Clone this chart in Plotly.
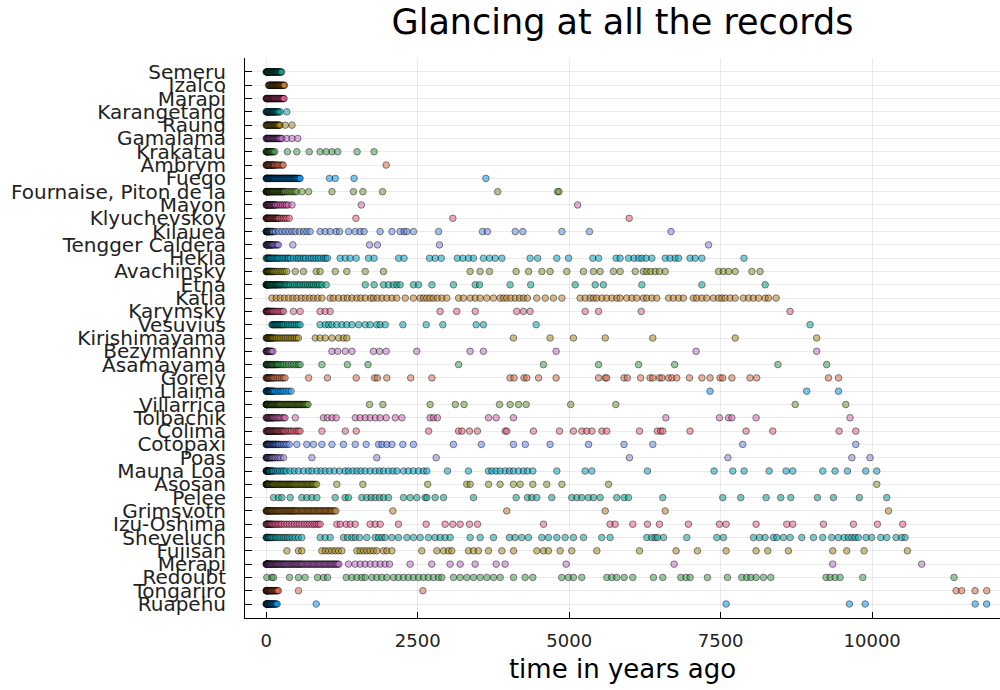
import plotly.graph_objects as go

# ---------------- data (years ago) ----------------
names = ["Semeru", "Izalco", "Marapi", "Karangetang", "Raung", "Gamalama", "Krakatau",
         "Ambrym", "Fuego", "Fournaise, Piton de la", "Mayon", "Klyuchevskoy", "Kilauea",
         "Tengger Caldera", "Hekla", "Avachinsky", "Etna", "Katla", "Karymsky", "Vesuvius",
         "Kirishimayama", "Bezymianny", "Asamayama", "Gorely", "Llaima", "Villarrica",
         "Tolbachik", "Colima", "Cotopaxi", "Poas", "Mauna Loa", "Asosan", "Pelee",
         "Grimsvotn", "Izu-Oshima", "Sheveluch", "Fujisan", "Merapi", "Redoubt",
         "Tongariro", "Ruapehu"]

semeru = [0, 5, 10, 15, 20, 25, 30, 38, 45, 52, 60, 68, 75, 82, 90, 98, 105, 112, 120, 128, 135,
          142, 150, 158, 165, 172, 180, 190, 200, 210, 220, 230, 240, 255]
izalco = [40, 48, 55, 62, 70, 78, 85, 92, 100, 108, 115, 122, 130, 138, 145, 152, 160, 168, 175,
          182, 190, 198, 205, 212, 220, 230, 240, 250, 260, 270, 280, 290, 300]
marapi = [0, 5, 10, 15, 20, 28, 35, 42, 50, 58, 65, 72, 80, 88, 95, 102, 110, 118, 125, 132, 140,
          150, 160, 170, 180, 190, 200, 210, 220, 230, 240, 250, 260, 270, 280, 295]
karangetang = [0, 5, 10, 18, 25, 32, 40, 48, 55, 62, 70, 78, 85, 92, 100, 108, 115, 122, 130,
               140, 150, 160, 170, 180, 190, 205, 230, 340]
raung = [0, 8, 15, 22, 30, 40, 50, 60, 70, 80, 90, 100, 110, 120, 130, 140, 150, 160, 170, 180,
         190, 200, 210, 230, 315, 425]
gamalama = [0, 8, 15, 22, 30, 38, 45, 52, 60, 70, 80, 90, 100, 110, 120, 130, 140, 150, 160,
            170, 180, 190, 200, 210, 220, 240, 260, 340, 425, 520]
krakatau = [0, 5, 10, 18, 25, 32, 40, 50, 60, 70, 80, 90, 100, 120, 140, 350, 505, 710, 890,
            990, 1085, 1180, 1500, 1780]
ambrym = [0, 5, 10, 18, 25, 32, 40, 50, 60, 70, 80, 90, 100, 110, 120, 130, 140, 160, 180, 200,
          230, 260, 280, 1980]
fuego = [0, 5, 10, 15, 20, 28, 35, 42, 50, 58, 65, 72, 80, 88, 95, 102, 110, 118, 125, 132, 140,
         150, 160, 170, 180, 190, 200, 210, 220, 230, 240, 250, 260, 270, 280, 290, 300, 310, 320,
         330, 340, 350, 360, 370, 380, 390, 400, 410, 420, 430, 440, 450, 460, 470, 480, 490, 500,
         515, 530, 545, 560, 1045, 1140, 1450, 3625]
fournaise = [0, 3, 5, 8, 10, 15, 20, 25, 30, 35, 40, 45, 50, 55, 60, 68, 75, 82, 90, 98, 105,
             112, 120, 130, 140, 150, 160, 170, 180, 190, 200, 210, 220, 230, 240, 250, 260, 270,
             280, 290, 300, 320, 350, 380, 410, 440, 470, 500, 590, 700, 1085, 1440, 1595, 1920,
             3820, 4810, 4830]
mayon = [0, 5, 10, 15, 20, 28, 35, 42, 50, 58, 65, 72, 80, 90, 100, 110, 120, 130, 140, 150, 160,
         185, 210, 240, 270, 300, 330, 360, 425, 1570, 5140]
klyuchevskoy = [0, 5, 10, 15, 20, 28, 35, 42, 50, 58, 65, 72, 80, 90, 100, 110, 120, 130, 140,
                150, 160, 170, 180, 190, 200, 220, 250, 280, 310, 340, 380, 1480, 3080, 5990]
kilauea = [0, 3, 5, 8, 10, 15, 20, 25, 30, 35, 40, 45, 50, 55, 60, 68, 75, 82, 90, 98, 105, 120,
           150, 205, 260, 315, 370, 425, 480, 550, 615, 670, 725, 890, 975, 1055, 1155, 1210,
           1360, 1470, 1550, 1615, 1880, 2075, 2210, 2275, 2320, 2430, 2845, 3570, 3650, 4110,
           4235, 4880, 5335, 6680]
tengger = [0, 5, 10, 15, 20, 28, 35, 42, 50, 58, 65, 72, 80, 90, 100, 110, 120, 140, 160, 180,
           200, 440, 1705, 1835, 2860, 7300]
hekla = [0, 10, 20, 30, 40, 50, 60, 70, 80, 100, 120, 140, 160, 180, 200, 230, 260, 290, 320,
         350, 370, 400, 450, 500, 530, 570, 615, 650, 700, 740, 780, 820, 860, 900, 945, 980,
         1010, 1220, 1305, 1385, 1485, 1690, 1780, 2185, 2275, 2695, 2790, 2890, 3155, 3245,
         3340, 3420, 3585, 3685, 3780, 3890, 4355, 4480, 4795, 4990, 5390, 5485, 5775, 5840,
         5980, 6070, 6145, 6200, 6270, 6365, 6585, 6665, 6750, 6805, 6995, 7080, 7190, 7885]
avachinsky = [0, 5, 10, 15, 20, 28, 35, 42, 50, 60, 70, 80, 90, 100, 110, 130, 150, 180, 210,
              240, 270, 300, 340, 480, 615, 825, 890, 1140, 1330, 1635, 1935, 3365, 3530, 3685,
              4125, 4330, 4550, 4685, 4960, 5235, 5400, 5510, 5730, 5840, 6090, 6225, 6280,
              6345, 6420, 6490, 6585, 7465, 7545, 7630, 7740, 8015, 8150]
etna = [0, 3, 5, 8, 10, 15, 20, 25, 30, 35, 40, 45, 50, 58, 65, 72, 80, 90, 100, 110, 120, 130,
        140, 150, 160, 170, 180, 190, 200, 215, 230, 245, 260, 280, 300, 320, 340, 370, 400,
        440, 470, 505, 540, 570, 610, 645, 680, 715, 750, 780, 815, 850, 880, 920, 990, 1635,
        1780, 1935, 2020, 2100, 2155, 2210, 2430, 2515, 2735, 3090, 3450, 3520, 4025, 4365,
        5100, 5430, 5565, 6200, 7190, 8235]
katla = [95, 165, 230, 300, 370, 440, 505, 580, 645, 715, 780, 850, 920, 1055, 1110, 1195,
         1275, 1340, 1415, 1495, 1560, 1635, 1725, 1770, 1835, 1910, 1990, 2075, 2155, 2295,
         2430, 2540, 2595, 2650, 2705, 2760, 2825, 2900, 2980, 3175, 3255, 3365, 3450, 3530,
         3640, 3750, 3860, 3915, 3970, 4035, 4110, 4180, 4245, 4310, 4465, 4605, 4740, 4880,
         5180, 5265, 5345, 5400, 5455, 5540, 5620, 5705, 5785, 5840, 5950, 6035, 6115, 6225,
         6280, 6365, 6445, 6640, 6720, 6805, 6885, 7050, 7105, 7190, 7270, 7380, 7465, 7520,
         7575, 7655, 7740, 7875, 7960, 8040, 8125, 8235, 8290, 8415]
karymsky = [0, 5, 10, 15, 20, 28, 35, 42, 50, 60, 70, 80, 90, 100, 110, 130, 150, 175, 200, 230,
            260, 285, 450, 560, 890, 975, 1055, 2870, 3145, 3450, 4135, 4245, 4355, 5265, 5485,
            6190, 8645]
vesuvius = [95, 105, 120, 130, 145, 155, 170, 185, 200, 215, 230, 245, 260, 275, 290, 320, 350,
            380, 410, 440, 470, 500, 530, 560, 890, 975, 1030, 1085, 1165, 1250, 1330, 1415,
            1525, 1635, 1715, 1825, 1880, 1965, 2255, 2640, 2915, 3465, 3585, 4455, 8975]
kirishimayama = [0, 8, 15, 22, 30, 40, 50, 60, 70, 80, 90, 100, 110, 130, 150, 175, 200, 230,
                 260, 290, 320, 350, 380, 410, 440, 470, 500, 530, 810, 890, 975, 1085, 1195,
                 1275, 1330, 4080, 4685, 5070, 5595, 6380, 7740, 9085]
bezymianny = [0, 5, 10, 15, 20, 28, 35, 42, 50, 60, 70, 80, 90, 110, 1085, 1180, 1305, 1415,
              1770, 1870, 1980, 2485, 3365, 3585, 4785, 7095, 9085]
asamayama = [0, 5, 10, 15, 20, 30, 40, 50, 60, 70, 80, 90, 100, 110, 125, 140, 155, 170, 185,
             200, 230, 260, 290, 330, 370, 410, 450, 490, 530, 560, 920, 1340, 1680, 3175, 4575,
             5485, 6145, 6740, 8445, 9250]
gorely = [0, 8, 15, 22, 30, 40, 50, 60, 70, 85, 100, 115, 130, 160, 190, 220, 250, 280, 310, 700,
          1010, 1485, 1790, 1835, 1990, 2385, 2735, 4025, 4090, 4255, 4300, 4495, 4785, 5485,
          5595, 5620, 5905, 5960, 6180, 6335, 6380, 6490, 6530, 6640, 6695, 6775, 6985, 7190,
          7325, 7490, 7535, 7685, 7985, 8095, 9280, 9445]
llaima = [0, 5, 10, 15, 20, 28, 35, 42, 50, 58, 65, 72, 80, 90, 100, 110, 120, 140, 170, 200,
          230, 260, 290, 330, 370, 410, 7325, 8920, 9445]
villarrica = [0, 3, 5, 8, 10, 15, 20, 25, 30, 38, 45, 52, 60, 68, 75, 82, 90, 100, 110, 120,
              130, 140, 150, 160, 170, 180, 190, 200, 210, 220, 230, 245, 260, 275, 290, 305,
              320, 335, 350, 365, 380, 395, 410, 425, 440, 455, 470, 485, 500, 515, 530, 545,
              560, 575, 590, 605, 620, 635, 650, 670, 690, 1705, 1925, 2705, 3120, 3265, 3850,
              4025, 4165, 4290, 5025, 5770, 8730, 9565]
tolbachik = [0, 8, 15, 22, 30, 40, 50, 60, 70, 80, 90, 100, 110, 120, 130, 150, 170, 190, 210,
             230, 260, 290, 310, 480, 945, 1010, 1085, 1155, 1470, 1550, 1635, 1715, 1800, 1880,
             1980, 2130, 2240, 2705, 2760, 2825, 3670, 3795, 4080, 6595, 7480, 7630, 7685, 8085,
             9635]
colima = [0, 8, 15, 22, 30, 38, 45, 52, 60, 70, 80, 90, 100, 110, 120, 130, 140, 150, 160, 170,
          185, 200, 210, 225, 240, 255, 270, 285, 300, 330, 360, 390, 420, 460, 500, 530, 560,
          920, 1305, 1485, 2680, 3175, 3230, 3355, 3485, 3945, 3970, 4410, 4840, 5070, 5210,
          5290, 5375, 5540, 5620, 6160, 6455, 6510, 6545, 6995, 7920, 8360, 9455, 9730]
cotopaxi = [0, 5, 10, 15, 20, 25, 30, 38, 45, 52, 60, 70, 80, 90, 100, 110, 120, 130, 140, 150,
            160, 175, 190, 205, 220, 250, 280, 310, 340, 380, 505, 670, 780, 920, 1085, 1275,
            1470, 1650, 1855, 1910, 1990, 2075, 2255, 2430, 3090, 3550, 4080, 4275, 4685, 5320,
            5905, 6380, 7865, 9730]
poas = [0, 5, 10, 15, 20, 28, 35, 42, 50, 60, 70, 80, 90, 100, 110, 130, 150, 180, 210, 240,
        285, 755, 1825, 2805, 5995, 7620, 9665, 9965]
mauna_loa = [0, 3, 5, 8, 11, 15, 20, 25, 30, 35, 40, 45, 50, 58, 66, 80, 95, 108, 121, 150, 187,
             220, 258, 290, 330, 396, 462, 533, 616, 698, 753, 836, 902, 973, 1045, 1122, 1210,
             1303, 1358, 1430, 1496, 1562, 1633, 1716, 1798, 1870, 1936, 2018, 2090, 2156, 2266,
             2348, 2431, 2513, 2596, 2651, 2992, 3338, 3668, 3723, 3795, 3861, 3943, 4015, 4081,
             4163, 4246, 4312, 4400, 4796, 5263, 5373, 6292, 7392, 7700, 7887, 8300, 8580, 8690,
             9185, 9388, 9592, 9895, 10076]
asosan = [0, 3, 5, 8, 10, 15, 20, 25, 30, 35, 42, 50, 60, 70, 80, 90, 100, 110, 120, 130, 145,
          160, 175, 190, 205, 220, 235, 250, 265, 280, 295, 310, 325, 340, 355, 370, 385, 400,
          415, 430, 445, 460, 480, 500, 520, 540, 560, 580, 600, 620, 640, 660, 680, 700, 720,
          740, 760, 780, 805, 830, 1165, 1595, 2665, 3310, 3365, 3670, 3860, 4080, 4190, 4400,
          4630, 4880, 5650, 10076]
pelee = [121, 203, 258, 396, 588, 671, 753, 836, 1138, 1303, 1358, 1578, 1661, 1732, 1798, 1870,
         1936, 2018, 2266, 2376, 2486, 2623, 2651, 2788, 2926, 3421, 4125, 4312, 4383, 4466, 4713,
         5043, 5126, 5208, 5318, 5401, 5511, 5786, 5907, 5978, 6545, 7535, 7832, 8250, 8492,
         8657, 9097, 9361, 9790, 10241]
grimsvotn = [0, 5, 10, 18, 25, 32, 40, 50, 60, 70, 80, 90, 100, 112, 125, 138, 150, 162, 175,
             188, 200, 215, 230, 245, 260, 275, 290, 305, 320, 335, 350, 365, 380, 395, 410, 425,
             440, 455, 470, 485, 500, 520, 540, 560, 580, 600, 620, 640, 660, 680, 700, 720, 740,
             760, 780, 800, 820, 840, 860, 880, 900, 920, 940, 960, 980, 1000, 1020, 1040, 1060,
             1080, 1100, 1125, 1150, 2090, 3970, 5595, 6585, 10270]
izu_oshima = [0, 5, 11, 20, 30, 40, 50, 60, 70, 80, 93, 110, 130, 150, 176, 200, 230, 258, 300,
              341, 380, 423, 465, 506, 545, 588, 630, 671, 710, 753, 790, 825, 860, 891, 1166,
              1221, 1320, 1386, 1468, 1716, 1798, 1881, 2183, 2640, 2953, 3080, 3201, 3355, 3487,
              4576, 5676, 5758, 6050, 6292, 6490, 6968, 7480, 7590, 8085, 8591, 8690, 9196, 9691,
              10087, 10505]
sheveluch = [0, 5, 11, 20, 30, 40, 50, 66, 80, 95, 121, 150, 176, 210, 242, 280, 313, 350, 385,
             430, 478, 530, 588, 891, 973, 1056, 1276, 1342, 1413, 1468, 1540, 1661, 1798, 1853,
             1908, 1963, 2073, 2183, 2321, 2431, 2541, 2678, 2788, 2871, 2953, 3036, 3366, 3531,
             3751, 4015, 4108, 4218, 4328, 4548, 4658, 4796, 4933, 5071, 5236, 5538, 5676, 6281,
             6363, 6418, 6457, 6556, 6941, 7436, 7546, 8041, 8140, 8233, 8371, 8426, 8536, 8646,
             8838, 9031, 9185, 9333, 9443, 9537, 9608, 9663, 9718, 9773, 9900, 9993, 10142,
             10241, 10395, 10488, 10543]
fujisan = [341, 533, 588, 918, 973, 1028, 1083, 1138, 1193, 1248, 1496, 1551, 1606, 1661, 1716,
           1771, 1826, 1936, 1991, 2073, 2568, 2816, 2926, 3008, 3063, 3338, 3421, 3503, 3668,
           3888, 4081, 4466, 4576, 4658, 4851, 5043, 5456, 6160, 6765, 7117, 7590, 8085, 8277,
           8618, 9350, 9581, 9867, 10582]
merapi = [0, 3, 5, 8, 10, 15, 20, 25, 30, 35, 42, 50, 58, 65, 72, 80, 90, 100, 110, 120, 130,
          140, 150, 160, 170, 180, 190, 200, 212, 225, 238, 250, 262, 275, 288, 300, 315, 330,
          345, 360, 375, 390, 405, 420, 435, 450, 465, 480, 495, 510, 525, 540, 555, 570, 585,
          600, 620, 640, 660, 680, 700, 720, 740, 760, 780, 800, 820, 840, 860, 880, 900, 920,
          940, 960, 980, 1000, 1020, 1040, 1060, 1080, 1100, 1120, 1140, 1160, 1180, 1200, 1358,
          1468, 1551, 1633, 1716, 1798, 1881, 1963, 2035, 2376, 2733, 3036, 3201, 3448, 3795,
          3943, 4950, 6732, 9350, 10818]
redoubt = [11, 93, 121, 385, 533, 643, 847, 946, 1012, 1320, 1413, 1496, 1578, 1633, 1743, 1826,
           1908, 1991, 2101, 2183, 2266, 2348, 2431, 2513, 2596, 2678, 2761, 2843, 2898, 3091,
           3201, 3311, 3421, 3531, 3641, 3751, 3861, 4081, 4273, 4400, 4878, 4988, 5071, 5208,
           5621, 5703, 5786, 5907, 6050, 6391, 6545, 6842, 6930, 6996, 7282, 7612, 7848, 7931,
           7997, 8085, 8206, 8327, 9240, 9306, 9388, 9471, 9845, 11352]
tongariro = [0, 3, 5, 8, 10, 15, 20, 25, 30, 38, 45, 52, 60, 68, 75, 82, 90, 100, 110, 120, 130,
             140, 150, 160, 170, 185, 200, 533, 2585, 11385, 11478, 11698, 11891]
ruapehu = [0, 3, 5, 8, 10, 15, 20, 25, 30, 38, 45, 52, 60, 68, 75, 82, 90, 100, 110, 120, 130,
           140, 150, 165, 180, 825, 7590, 9625, 9885, 11700, 11890]

records = [semeru, izalco, marapi, karangetang, raung, gamalama, krakatau, ambrym, fuego,
           fournaise, mayon, klyuchevskoy, kilauea, tengger, hekla, avachinsky, etna, katla,
           karymsky, vesuvius, kirishimayama, bezymianny, asamayama, gorely, llaima, villarrica,
           tolbachik, colima, cotopaxi, poas, mauna_loa, asosan, pelee, grimsvotn, izu_oshima,
           sheveluch, fujisan, merapi, redoubt, tongariro, ruapehu]

x_ticks = [0, 2500, 5000, 7500, 10000]

# Plots.jl default palette
palette = ["#009AFA", "#E36F47", "#3EA44E", "#C371D2", "#AC8E18", "#00AAAE", "#ED5E93",
           "#C68225", "#00A98D", "#8E971E", "#00A9CD", "#9B7FE8", "#618DF6", "#F05F73",
           "#DD65B6", "#6B9E32"]

fig = go.Figure()
order = list(range(len(names)))[::-1]  # bottom (Ruapehu) first
for k, i in enumerate(order):
    vals = records[i]
    fig.add_trace(go.Scatter(
        x=vals, y=[names[i]] * len(vals), mode="markers",
        marker=dict(size=6.5, color=palette[k % len(palette)], opacity=0.55,
                    line=dict(color="black", width=1)),
        showlegend=False, hoverinfo="x+y"))

font_fam = "DejaVu Sans"
fig.update_layout(
    width=1000, height=690,
    paper_bgcolor="white", plot_bgcolor="white",
    margin=dict(l=245, r=0, t=58, b=72),
    title=dict(text="Glancing at all the records", x=0.5, xref="paper",
               y=1 - 22 / 690, yref="container", yanchor="middle", xanchor="center",
               font=dict(family=font_fam, size=35, color="black")),
    font=dict(family=font_fam, color="black"),
)
fig.update_xaxes(
    range=[-350, 12110], tickvals=x_ticks, ticktext=[str(t) for t in x_ticks],
    showgrid=True, gridcolor="rgba(0,0,0,0.08)", gridwidth=1, zeroline=False,
    showline=True, linecolor="black", linewidth=1, mirror=False,
    ticks="inside", ticklen=6, tickcolor="black",
    tickfont=dict(family=font_fam, size=18, color="#222"), ticklabelstandoff=6,
    title=dict(text="time in years ago", font=dict(family=font_fam, size=26, color="black"),
               standoff=10),
)
fig.update_yaxes(
    type="category", categoryorder="array", categoryarray=names[::-1],
    tickmode="array", tickvals=names, ticktext=names,
    range=[-1.05, len(names) - 1 + 1.05],
    showgrid=True, gridcolor="rgba(0,0,0,0.08)", gridwidth=1, zeroline=False,
    showline=True, linecolor="black", linewidth=1,
    ticks="inside", ticklen=7, tickcolor="black",
    tickfont=dict(family=font_fam, size=20, color="#222"), ticklabelstandoff=14,
)

fig.write_html("out.html")
